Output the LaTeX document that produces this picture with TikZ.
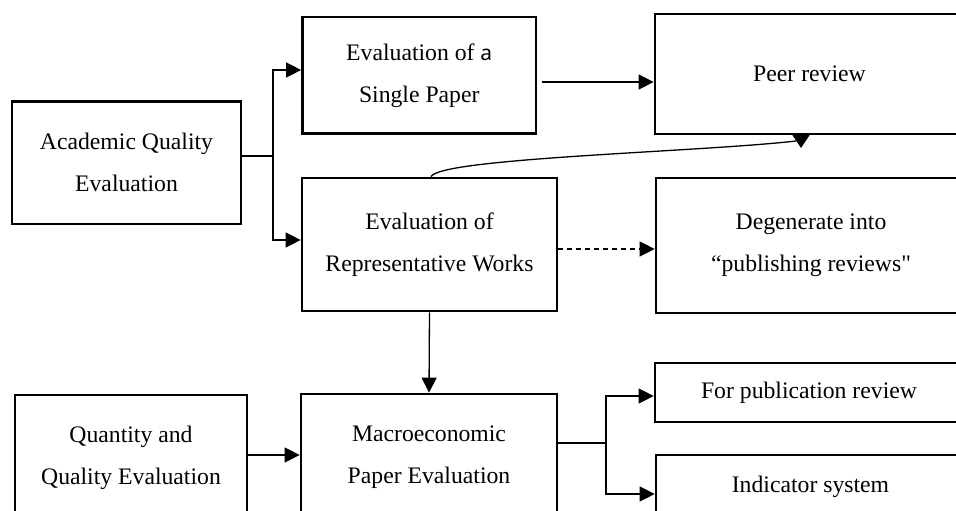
\documentclass[tikz,border=0pt]{standalone}
\usepackage{fontspec}
\setmainfont{Liberation Serif}
\newfontfamily\sansfam{Noto Sans}
\newfontfamily\plainq{Liberation Serif}[Ligatures=TeXOff]
\usetikzlibrary{arrows.meta}
\begin{document}
\begin{tikzpicture}[x=1pt,y=-1pt,
  box/.style={draw, line width=2.7pt, rectangle, align=center, inner sep=0pt,
    font=\fontsize{23.7}{42}\selectfont},
  wire/.style={line width=1.3pt},
  link/.style={wire, -{Triangle[length=15pt,width=15pt]}},
  dashlink/.style={link, dash pattern=on 5pt off 4pt}]
\useasboundingbox (0,0) rectangle (956,511);
\clip (0,0) rectangle (956,511);

% boxes
\node[box, minimum width=229pt, minimum height=122.5pt] (acad) at (126.5,162.75) {Academic Quality\\Evaluation};
\node[box, minimum width=233.5pt, minimum height=116.5pt] (single) at (419.25,75.25) {Evaluation of {\sansfam\fontsize{21}{42}\selectfont a}\\Single Paper};
\node[box, minimum width=255pt, minimum height=133pt] (repr) at (429.5,244.5) {Evaluation of\\Representative Works};
\node[box, minimum width=309pt, minimum height=120pt] (peer) at (809.5,74) {Peer review};
\node[box, minimum width=310pt, minimum height=135pt] (degen) at (811,245.5) {Degenerate into\\“publishing reviews{\plainq"}};
\node[box, minimum width=308pt, minimum height=59pt] (pub) at (809,392.5) {For publication review};
\node[box, minimum width=309pt, minimum height=64pt] (ind) at (810.5,487) {Indicator system};
\node[box, minimum width=232pt, minimum height=126pt] (qq) at (131,458) {Quantity and\\Quality Evaluation};
\node[box, minimum width=256pt, minimum height=126pt] (macro) at (429,457) {Macroeconomic\\Paper Evaluation};

% helper coordinates for the orthogonal connectors
\coordinate (f1) at (273,156);
\coordinate (f1top) at (273,70);
\coordinate (f1bot) at (273,240);
\coordinate (yBD) at (0,82);
\coordinate (bOut) at ([xshift=5pt]single.east);
\coordinate (yCE) at (0,249);
\coordinate (yFG) at (0,455);
\coordinate (f2) at (606,443);
\coordinate (f2top) at (606,396);
\coordinate (f2bot) at (606,494);
\coordinate (cStart) at ([xshift=1.5pt]repr.north);
\coordinate (cEnd) at (796,141);

% academic quality fork
\draw[wire] (acad.east |- f1) -- (f1);
\draw[link] (f1) -- (f1top) -- (single.west |- f1top);
\draw[link] (f1) -- (f1bot) -- (repr.west |- f1bot);

% single paper -> peer review
\draw[link] (bOut |- yBD) -- (peer.west |- yBD);

% representative works -> degenerate (dashed)
\draw[dashlink] (repr.east |- yCE) -- (degen.west |- yCE);

% representative works -> peer review (curved)
\draw[wire] (cStart) .. controls (440,158) and (700,152) .. (cEnd);
\fill (792,134.5) -- (810,134.5) -- (801,148) -- cycle;

% representative works -> macroeconomic
\draw[link] (repr.south) -- (macro.north);

% quantity and quality -> macroeconomic
\draw[link] (qq.east |- yFG) -- (macro.west |- yFG);

% macroeconomic fork
\draw[wire] (macro.east |- f2) -- (f2);
\draw[link] (f2) -- (f2top) -- (pub.west |- f2top);
\draw[link] (f2) -- (f2bot) -- (ind.west |- f2bot);
\end{tikzpicture}
\end{document}
